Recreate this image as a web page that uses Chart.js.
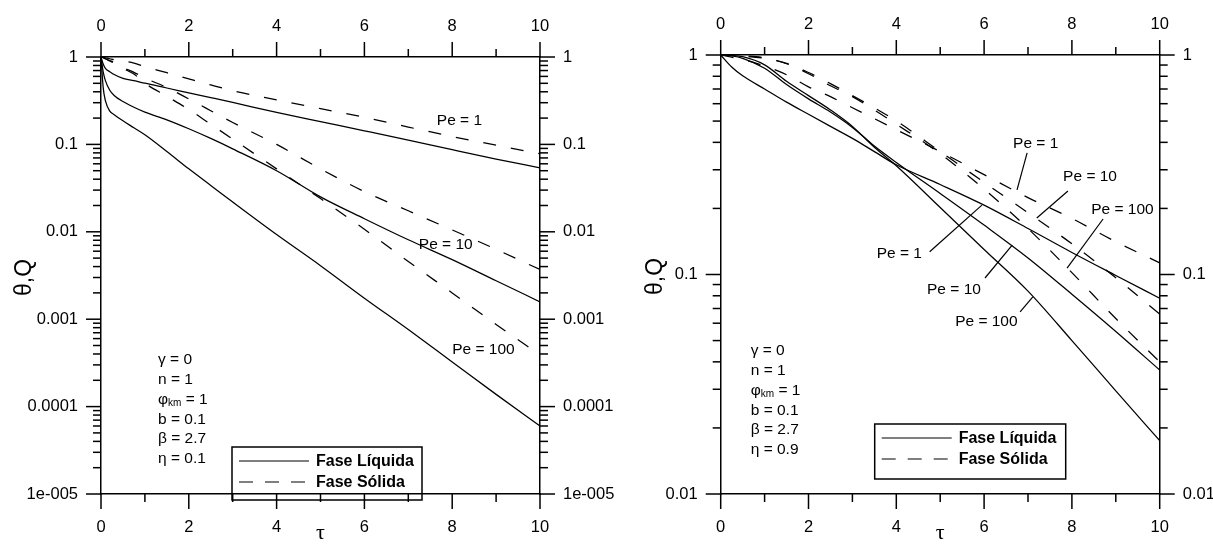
<!DOCTYPE html>
<html>
<head>
<meta charset="utf-8">
<script src="https://cdn.jsdelivr.net/npm/chart.js@4/dist/chart.umd.min.js"></script>
<style>
  body { margin: 0; background: #fff; }
  #wrap { position: relative; width: 1213px; height: 546px; overflow: hidden; }
  #wrap canvas { position: absolute; top: 0; }
</style>
</head>
<body>
<div id="wrap">
  <canvas id="left" width="640" height="546" style="left:0"></canvas>
  <canvas id="right" width="613" height="546" style="left:600px"></canvas>
</div>
<script>
// ---- eta = 0.1 ----
var tauA = [0, 0.05, 0.1, 0.2, 0.3, 0.5, 0.75, 1, 1.5, 2, 2.5, 3, 4, 5, 6, 7, 8, 9, 10];
var liqA_Pe1   = [1, 0.83, 0.74, 0.68, 0.63, 0.569, 0.537, 0.501, 0.442, 0.389, 0.343, 0.302, 0.232, 0.182, 0.143, 0.112, 0.087, 0.068, 0.054];
var liqA_Pe10  = [1, 0.676, 0.537, 0.417, 0.363, 0.309, 0.266, 0.234, 0.191, 0.151, 0.117, 0.089, 0.050, 0.0251, 0.0141, 0.0081, 0.0048, 0.00275, 0.00158];
var liqA_Pe100 = [1, 0.447, 0.316, 0.240, 0.219, 0.186, 0.155, 0.129, 0.083, 0.0525, 0.0339, 0.0219, 0.0093, 0.0041, 0.00174, 0.00076, 0.000324, 0.000138, 0.00006];
var solA_Pe1   = [1, 0.99, 0.98, 0.955, 0.93, 0.902, 0.851, 0.776, 0.661, 0.562, 0.479, 0.412, 0.324, 0.257, 0.204, 0.158, 0.123, 0.098, 0.078];
var solA_Pe10  = [1, 0.98, 0.955, 0.91, 0.87, 0.759, 0.668, 0.575, 0.447, 0.331, 0.243, 0.178, 0.10, 0.0525, 0.0288, 0.0174, 0.0105, 0.0063, 0.0037];
var solA_Pe100 = [1, 0.98, 0.955, 0.90, 0.85, 0.741, 0.638, 0.501, 0.355, 0.251, 0.170, 0.115, 0.0525, 0.024, 0.0107, 0.00457, 0.0020, 0.00087, 0.00039];

// ---- eta = 0.9 ----
var tauB = [0, 0.25, 0.5, 1, 1.5, 2, 2.5, 3, 3.5, 4, 5, 6, 7, 8, 9, 10];
var liqB_Pe1   = [1, 0.881, 0.804, 0.700, 0.610, 0.537, 0.473, 0.417, 0.363, 0.316, 0.257, 0.207, 0.162, 0.126, 0.099, 0.078];
var liqB_Pe10  = [1, 0.99, 0.966, 0.871, 0.733, 0.631, 0.550, 0.468, 0.385, 0.324, 0.234, 0.168, 0.119, 0.0813, 0.055, 0.0367];
var liqB_Pe100 = [1, 0.995, 0.982, 0.902, 0.759, 0.653, 0.562, 0.473, 0.380, 0.313, 0.202, 0.130, 0.084, 0.050, 0.0295, 0.0175];
var solB_Pe1   = [1, 0.977, 0.955, 0.891, 0.813, 0.716, 0.646, 0.575, 0.513, 0.457, 0.363, 0.285, 0.224, 0.180, 0.141, 0.113];
var solB_Pe10  = [1, 0.995, 0.989, 0.966, 0.916, 0.832, 0.741, 0.653, 0.575, 0.501, 0.363, 0.263, 0.191, 0.138, 0.0966, 0.066];
var solB_Pe100 = [1, 0.998, 0.991, 0.971, 0.912, 0.822, 0.724, 0.646, 0.562, 0.484, 0.355, 0.245, 0.162, 0.102, 0.063, 0.040];

// axis ticks
var xTicks = [0, 2, 4, 6, 8, 10];
var yTicksA = [1e-5, 1e-4, 1e-3, 1e-2, 0.1, 1];
var yLabelsA = ['1e-005', '0.0001', '0.001', '0.01', '0.1', '1'];
var yTicksB = [0.01, 0.1, 1];
var yLabelsB = ['0.01', '0.1', '1'];

var phaseNames = ['Fase Líquida', 'Fase Sólida'];
var paramsA = [['γ = 0'], ['n = 1'], ['φ', 'km', ' = 1'], ['b = 0.1'], ['β = 2.7'], ['η = 0.1']];
var paramsB = [['γ = 0'], ['n = 1'], ['φ', 'km', ' = 1'], ['b = 0.1'], ['β = 2.7'], ['η = 0.9']];

var SANS = 'Arial, "Liberation Sans", sans-serif';
var SERIF = '"Times New Roman", "Liberation Serif", serif';

function pts(tau, vals) {
    return tau.map(function (t, i) { return { x: t, y: vals[i] }; });
}

function curve(label, tau, vals, dashed) {
    return {
        label: label,
        data: pts(tau, vals),
        xAxisID: 'x',
        yAxisID: 'y',
        borderColor: '#000',
        borderWidth: 1.25,
        borderDash: dashed ? [13, 15] : [],
        pointRadius: 0,
        pointHoverRadius: 0,
        cubicInterpolationMode: 'monotone',
        fill: false
    };
}

// short/long tick marks, all pointing outwards
const tickMarks = {
    id: 'tickMarks',
    afterDraw(chart, args, o) {
        const ctx = chart.ctx, a = chart.chartArea;
        const xs = chart.scales.x, ys = chart.scales.y;
        ctx.save();
        ctx.strokeStyle = '#000';
        ctx.lineWidth = 1.5;
        const seg = (x1, y1, x2, y2) => { ctx.beginPath(); ctx.moveTo(x1, y1); ctx.lineTo(x2, y2); ctx.stroke(); };
        for (let t = 0; t <= 10; t++) {
            const px = xs.getPixelForValue(t);
            const len = t % 2 ? 8 : 15;
            seg(px, a.bottom, px, a.bottom + len);
            seg(px, a.top, px, a.top - len);
        }
        o.decades.forEach(d => {
            const py = ys.getPixelForValue(d);
            seg(a.left, py, a.left - 15, py);
            seg(a.right, py, a.right + 15, py);
            if (d >= 1) return;
            for (let k = 2; k <= 9; k++) {
                const my = ys.getPixelForValue(d * k);
                seg(a.left, my, a.left - 8, my);
                seg(a.right, my, a.right + 8, my);
            }
        });
        ctx.restore();
    }
};

// axis titles, curve labels, parameter block and legend box
const decorations = {
    id: 'decorations',
    afterDraw(chart, args, o) {
        const ctx = chart.ctx, a = chart.chartArea;
        const xs = chart.scales.x, ys = chart.scales.y;
        const P = (t, v) => [xs.getPixelForValue(t), ys.getPixelForValue(v)];
        ctx.save();
        ctx.fillStyle = '#000';
        ctx.strokeStyle = '#000';

        ctx.save();
        ctx.font = '23px ' + SANS;
        ctx.translate(a.left - o.yTitleOffset, (a.top + a.bottom) / 2 + 2);
        ctx.rotate(-Math.PI / 2);
        ctx.textAlign = 'center';
        ctx.textBaseline = 'middle';
        ctx.fillText('θ,Q', 0, 0);
        ctx.restore();

        ctx.font = '22px ' + SERIF;
        ctx.textAlign = 'center';
        ctx.textBaseline = 'middle';
        ctx.fillText('τ', (a.left + a.right) / 2, a.bottom + 39);

        ctx.font = '15.5px ' + SANS;
        ctx.textBaseline = 'middle';
        ctx.lineWidth = 1.2;
        o.peLabels.forEach(l => {
            const p = P(l.at[0], l.at[1]);
            ctx.textAlign = l.align || 'left';
            ctx.fillText(l.text, p[0], p[1]);
            if (l.lead) {
                const p1 = P(l.lead[0][0], l.lead[0][1]);
                const p2 = P(l.lead[1][0], l.lead[1][1]);
                ctx.beginPath(); ctx.moveTo(p1[0], p1[1]); ctx.lineTo(p2[0], p2[1]); ctx.stroke();
            }
        });

        // parameters
        ctx.textAlign = 'left';
        o.params.forEach((parts, i) => {
            let x = a.left + o.paramPos[0];
            const y = a.bottom - o.paramPos[1] + i * 19.8;
            ctx.font = '15.5px ' + SANS;
            ctx.fillText(parts[0], x, y);
            if (parts.length > 1) {
                x += ctx.measureText(parts[0]).width;
                ctx.font = '10px ' + SANS;
                ctx.fillText(parts[1], x, y + 4);
                x += ctx.measureText(parts[1]).width;
                ctx.font = '15.5px ' + SANS;
                ctx.fillText(parts[2], x, y);
            }
        });

        // legend
        const bx = a.left + o.legend[0], by = a.bottom - o.legend[1];
        ctx.lineWidth = 1.5;
        ctx.strokeRect(bx, by, o.legend[2], o.legend[3]);
        ctx.lineWidth = 1.2;
        [0, 1].forEach(i => {
            const ly = by + 14 + i * 21;
            ctx.setLineDash(i ? [14, 12] : []);
            ctx.beginPath(); ctx.moveTo(bx + 7, ly); ctx.lineTo(bx + 77, ly); ctx.stroke();
            ctx.setLineDash([]);
            ctx.font = 'bold 16px ' + SANS;
            ctx.fillText(phaseNames[i], bx + 84, ly + 1);
        });
        ctx.restore();
    }
};

function makeChart(id, cfg) {
    const tickFont = { family: SANS, size: 16.5 };
    const xAxis = (pos, h, pad) => ({
        type: 'linear', position: pos, min: 0, max: 10,
        afterBuildTicks: s => { s.ticks = xTicks.map(v => ({ value: v })); },
        ticks: { padding: pad, color: '#000', font: tickFont, maxRotation: 0, autoSkip: false },
        grid: { display: false, drawTicks: false },
        border: { display: true, color: '#000', width: 1.5 },
        afterFit: s => { s.height = h; }
    });
    const yAxis = (pos, w) => ({
        type: 'logarithmic', position: pos, min: cfg.yTicks[0], max: 1,
        afterBuildTicks: s => { s.ticks = cfg.yTicks.map(v => ({ value: v })); },
        ticks: { padding: 23, color: '#000', font: tickFont, autoSkip: false,
                 callback: (v, i) => cfg.yLabels[i] },
        grid: { display: false, drawTicks: false },
        border: { display: true, color: '#000', width: 1.5 },
        afterFit: s => { s.width = w; }
    });
    return new Chart(document.getElementById(id).getContext('2d'), {
        type: 'line',
        data: { datasets: cfg.datasets },
        options: {
            responsive: false,
            animation: false,
            devicePixelRatio: 1,
            layout: { padding: 0 },
            scales: {
                x: xAxis('bottom', cfg.bottom, 24),
                xTop: xAxis('top', cfg.top, 21),
                y: yAxis('left', cfg.leftW),
                yRight: yAxis('right', cfg.rightW)
            },
            plugins: {
                legend: { display: false },
                tooltip: { enabled: false },
                tickMarks: { decades: cfg.yTicks },
                decorations: cfg.deco
            }
        },
        plugins: [tickMarks, decorations]
    });
}

makeChart('left', {
    yTicks: yTicksA, yLabels: yLabelsA,
    top: 57, bottom: 52, leftW: 101, rightW: 100,
    datasets: [
        curve('Pe = 1', tauA, liqA_Pe1, false),
        curve('Pe = 10', tauA, liqA_Pe10, false),
        curve('Pe = 100', tauA, liqA_Pe100, false),
        curve('Pe = 1', tauA, solA_Pe1, true),
        curve('Pe = 10', tauA, solA_Pe10, true),
        curve('Pe = 100', tauA, solA_Pe100, true)
    ],
    deco: {
        yTitleOffset: 76,
        peLabels: [
            { text: 'Pe = 1', at: [7.65, 0.185] },
            { text: 'Pe = 10', at: [7.24, 0.0071] },
            { text: 'Pe = 100', at: [8.0, 0.00045] }
        ],
        params: paramsA,
        paramPos: [57, 134],
        legend: [131, 47, 190, 53]
    }
});

makeChart('right', {
    yTicks: yTicksB, yLabels: yLabelsB,
    top: 55, bottom: 52, leftW: 120.7, rightW: 53.3,
    datasets: [
        curve('Pe = 1', tauB, liqB_Pe1, false),
        curve('Pe = 10', tauB, liqB_Pe10, false),
        curve('Pe = 100', tauB, liqB_Pe100, false),
        curve('Pe = 1', tauB, solB_Pe1, true),
        curve('Pe = 10', tauB, solB_Pe10, true),
        curve('Pe = 100', tauB, solB_Pe100, true)
    ],
    deco: {
        yTitleOffset: 65,
        peLabels: [
            { text: 'Pe = 1', at: [6.66, 0.393], lead: [[6.98, 0.358], [6.75, 0.243]] },
            { text: 'Pe = 10', at: [7.8, 0.278], lead: [[7.91, 0.24], [7.2, 0.181]] },
            { text: 'Pe = 100', at: [8.44, 0.197], lead: [[8.71, 0.179], [7.89, 0.107]] },
            { text: 'Pe = 1', at: [4.585, 0.125], align: 'right', lead: [[4.76, 0.127], [5.95, 0.207]] },
            { text: 'Pe = 10', at: [4.7, 0.085], lead: [[6.02, 0.0964], [6.64, 0.136]] },
            { text: 'Pe = 100', at: [5.34, 0.0608], lead: [[6.82, 0.0675], [7.11, 0.079]] }
        ],
        params: paramsB,
        paramPos: [30, 143],
        legend: [154, 70, 191, 55]
    }
});
</script>
</body>
</html>
